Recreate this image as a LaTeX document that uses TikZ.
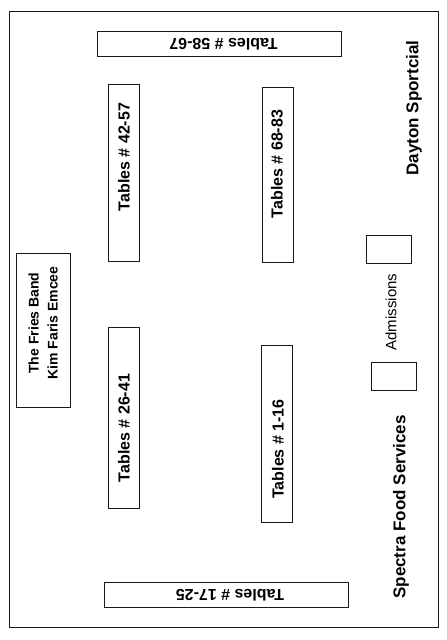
\documentclass[tikz,border=0pt]{standalone}
\usepackage{fontspec}
\setmainfont{Liberation Sans}

\begin{document}
\begin{tikzpicture}[x=1pt,y=-1pt,
  box/.style={draw=black!90,line width=0.8pt,inner sep=0pt},
  tlabel/.style={font=\bfseries\fontsize{16}{18}\selectfont},
  blabel/.style={font=\bfseries\fontsize{14}{19}\selectfont,align=center},
  slabel/.style={font=\bfseries\fontsize{17}{19}\selectfont},
  alabel/.style={font=\fontsize{15}{17}\selectfont}]
\useasboundingbox (0,0) rectangle (447,640);
% outer wall
\draw[black!90,line width=0.8pt] (9,11) rectangle (438,627);
% table rows
\node[box,minimum width=244pt,minimum height=25pt] (row5867) at (219,43.5) {};
\node[tlabel,rotate=180] (txt5867) at (223.5,44) {Tables \# 58-67};
\node[box,minimum width=31pt,minimum height=177pt] (row4257) at (123.5,172.5) {};
\node[tlabel,rotate=90] (txt4257) at (124,157) {Tables \# 42-57};
\node[box,minimum width=31pt,minimum height=175pt] (row6883) at (277.5,174.5) {};
\node[tlabel,rotate=90] (txt6883) at (277,164) {Tables \# 68-83};
\node[box,minimum width=31pt,minimum height=181pt] (row2641) at (123.5,417.5) {};
\node[tlabel,rotate=90] (txt2641) at (124,428) {Tables \# 26-41};
\node[box,minimum width=31pt,minimum height=177pt] (row116) at (276.5,433.5) {};
\node[tlabel,rotate=90] (txt116) at (278,449) {Tables \# 1-16};
\node[box,minimum width=244pt,minimum height=25pt] (row1725) at (226,594.5) {};
\node[tlabel,rotate=180] (txt1725) at (230,595) {Tables \# 17-25};
% stage
\node[box,minimum width=54pt,minimum height=154pt] (stage) at (43,330) {};
\node[blabel,rotate=90] (band) at (43,323) {The Fries Band\\Kim Faris Emcee};
% admissions
\node[box,minimum width=45pt,minimum height=28pt] (adm1) at (388.5,249) {};
\node[box,minimum width=45pt,minimum height=28pt] (adm2) at (393.5,376) {};
\node[alabel,rotate=90] (admtxt) at (391,312) {Admissions};
% side labels
\node[slabel,rotate=90] (dayton) at (414,108) {Dayton Sportcial};
\node[slabel,rotate=90] (spectra) at (401,507) {Spectra Food Services};
\end{tikzpicture}
\end{document}
